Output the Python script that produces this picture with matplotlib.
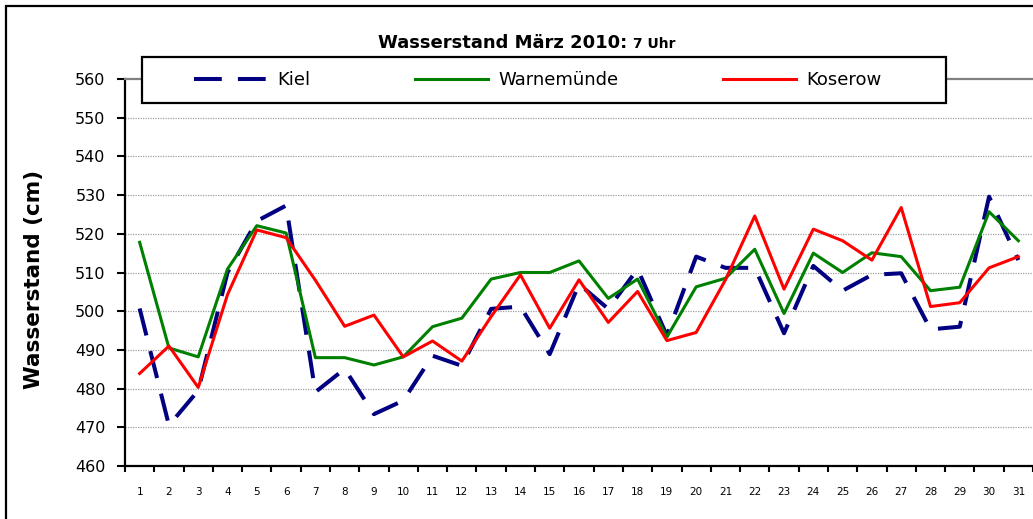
import numpy as np
import matplotlib
matplotlib.use('agg')
import matplotlib.pyplot as plt
from matplotlib.patches import Rectangle

days = np.arange(1, 32)
kiel = [500.7, 470.5, 479.5, 510, 523.3, 527.3, 479.1, 485.1, 473.4, 476.9,
        488.5, 485.9, 500.6, 501.2, 488.9, 507, 500.6, 510.9, 493.7, 514.1,
        511.2, 511.2, 494.3, 511.7, 505.3, 509.4, 509.8, 495.3, 496, 529.6, 513.2]
warnemuende = [517.8, 490.5, 488.2, 510.9, 522.1, 520.2, 488, 488, 486.1, 488.2,
               496, 498.2, 508.3, 510, 510, 513, 503.3, 508.3, 493.3, 506.3,
               508.5, 516, 499.4, 515, 510, 515.1, 514.1, 505.3, 506.2, 525.7, 518.2]
koserow = [483.9, 491, 480.3, 504.3, 521, 519, 508, 496.1, 499, 488.2,
           492.3, 487.1, 498.6, 509.4, 495.6, 508.1, 497.1, 505.1, 492.4, 494.5,
           508.1, 524.6, 505.7, 521.2, 518.2, 513.2, 526.8, 501.2, 502.2, 511.2, 514.1]
yticks = np.arange(460, 561, 10)

W, H = 1033, 519
fig = plt.figure(figsize=(W / 100, H / 100), dpi=100)
ax = fig.add_axes([125 / W, (H - 466) / H, (W - 125) / W, 387 / H])

l1, = ax.plot(days, kiel, color='#000080', lw=2.9, dashes=(6.9, 4), label='Kiel')
l2, = ax.plot(days, warnemuende, color='#008000', lw=2.2, label='Warnemünde')
l3, = ax.plot(days, koserow, color='#ff0000', lw=2.2, label='Koserow')

ax.set_xlim(0.5, 31.5)
ax.set_ylim(460, 560)
ax.set_yticks(yticks)
ax.set_xticks(days)
ax.set_xticks(np.arange(0.5, 32, 1), minor=True)
ax.tick_params(axis='x', which='major', length=0, labelsize=7.5, pad=15)
ax.tick_params(axis='x', which='minor', length=4, width=1.5, direction='out')
ax.tick_params(axis='y', length=6, width=1.5, direction='out', labelsize=11.5, pad=8)

for v in yticks[1:-1]:
    ax.axhline(v, color='#a0a0a0', lw=0.9, ls=(0, (1, 1)), zorder=0)

ax.spines['right'].set_visible(False)
ax.spines['top'].set_color('#808080')
ax.spines['top'].set_linewidth(1.6)
ax.spines['left'].set_linewidth(1.6)
ax.spines['bottom'].set_linewidth(1.6)

ax.set_ylabel('Wasserstand (cm)', fontsize=15.5, fontweight='bold')
ax.yaxis.set_label_coords(-0.089, 0.483)

# title in two sizes
fig.text(627 / W, (H - 48) / H, 'Wasserstand März 2010:', fontsize=13,
         fontweight='bold', ha='right', va='baseline')
fig.text(633 / W, (H - 48) / H, '7 Uhr', fontsize=10, fontweight='bold',
         ha='left', va='baseline')

# legend box and outer frame
fig.add_artist(Rectangle((142 / W, (H - 103) / H), 804 / W, 46 / H,
                         transform=fig.transFigure, facecolor='white',
                         edgecolor='black', lw=1.6, zorder=1))
fig.add_artist(Rectangle((6 / W, -0.1), 1.2, (H - 6) / H + 0.1,
                         transform=fig.transFigure, fill=False,
                         edgecolor='black', lw=1.6, zorder=1))

fig.legend(handles=[l1, l2, l3], loc='center left',
           bbox_to_anchor=(194 / W, (H - 80) / H), ncol=3, frameon=False,
           fontsize=13, borderpad=0, borderaxespad=0, handlelength=4.05,
           handletextpad=0.55, columnspacing=5.8)

fig.savefig('out.png', dpi=100)
